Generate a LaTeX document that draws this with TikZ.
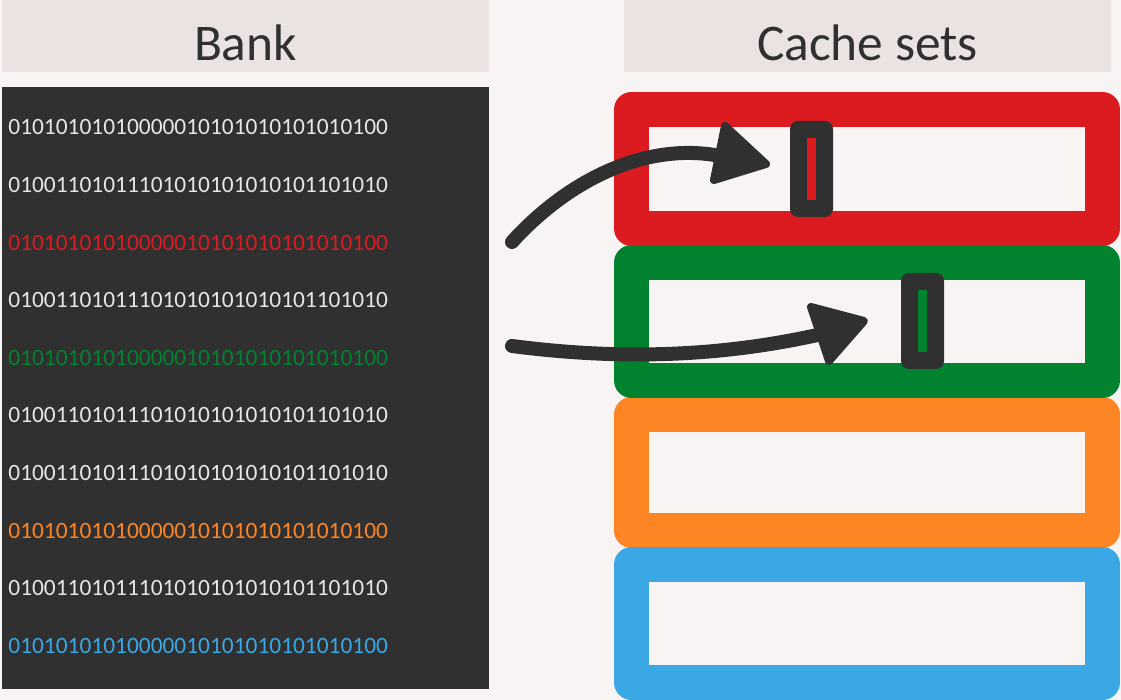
\documentclass[tikz,border=0pt]{standalone}
\usepackage{fontspec}
\setmainfont{Carlito}
\begin{document}
\begin{tikzpicture}[x=0.5pt,y=-0.5pt]
\definecolor{pagebg}{HTML}{F7F4F3}
\definecolor{headbg}{HTML}{EBE3E1}
\definecolor{ink}{HTML}{303030}
\definecolor{bitfg}{HTML}{EBE6E4}
\definecolor{setred}{HTML}{DC1B21}
\definecolor{setgreen}{HTML}{01822F}
\definecolor{setorange}{HTML}{FE8523}
\definecolor{setblue}{HTML}{3AA8E5}
\tikzset{
  headbox/.style={fill=headbg, inner sep=0pt, minimum width=243.5pt, minimum height=36pt, anchor=north west},
  title/.style={text=ink, font=\fontsize{25.7}{30}\selectfont, anchor=base, inner sep=0pt},
  bits/.style={font=\fontsize{11.7}{14}\selectfont, anchor=base west, inner sep=0pt},
  setbox/.style={line width=17.5pt, line join=round},
  marker/.style={fill=ink, rounded corners=4pt, minimum width=21.5pt, minimum height=48pt, inner sep=0pt},
  shaft/.style={draw=ink, line width=7pt, line cap=round},
  head/.style={fill=ink, draw=ink, line width=4pt, line join=round}
}
% page
\fill[pagebg] (0,0) rectangle (1121,700);
\useasboundingbox (0,0) rectangle (1121,700);

% column headers
\node[headbox] (bankhead) at (2,0) {};
\node[headbox] (cachehead) at (624,0) {};
\node[title] (banktitle) at (245.5,61) {Bank};
\node[title] (cachetitle) at (867.5,61) {Cache sets};

% memory bank
\fill[ink] (2,87) rectangle (489,689);
\foreach \i/\s/\c in {
  1/01010101010000010101010101010100/bitfg,
  2/01001101011101010101010101101010/bitfg,
  3/01010101010000010101010101010100/setred,
  4/01001101011101010101010101101010/bitfg,
  5/01010101010000010101010101010100/setgreen,
  6/01001101011101010101010101101010/bitfg,
  7/01001101011101010101010101101010/bitfg,
  8/01010101010000010101010101010100/setorange,
  9/01001101011101010101010101101010/bitfg,
  10/01010101010000010101010101010100/setblue}
  \node[bits, text=\c] (row\i) at (8,{135+57.6*(\i-1)}) {\s};

% cache sets
\draw[setbox, setred]    (631.5,109.5) rectangle (1102.5,228.5);
\draw[setbox, setorange] (631.5,414.5) rectangle (1102.5,530.5);
\draw[setbox, setblue]   (631.5,564.5) rectangle (1102.5,682.5);
\draw[setbox, setgreen]  (631.5,262.5) rectangle (1102.5,380.5);

% cached lines
\node[marker] (mk1) at (811.5,169) {};
\fill[setred] (807,138) rectangle (816,200);
\node[marker] (mk2) at (922.5,321) {};
\fill[setgreen] (918,290) rectangle (927,352);

% arrows from the bank to the cache sets
\coordinate (a1s) at (512,242);
\coordinate (a1e) at (725,157);
\coordinate (a2s) at (512,346);
\coordinate (a2e) at (822,334);
\draw[shaft] (a1s) .. controls (570,178) and (650,140) .. (a1e);
\filldraw[head] (725,126) -- (766,164) -- (714,180) -- cycle;
\draw[shaft] (a2s) .. controls (620,360) and (720,357) .. (a2e);
\filldraw[head] (811,307) -- (864,321) -- (829,361) -- cycle;
\end{tikzpicture}
\end{document}
